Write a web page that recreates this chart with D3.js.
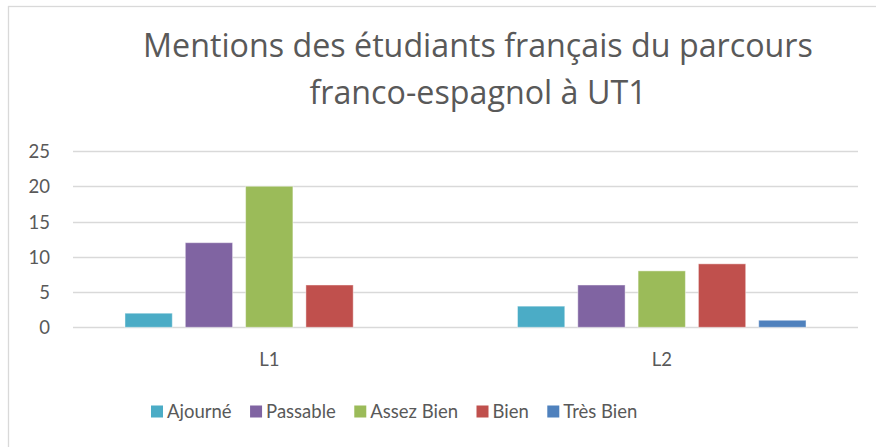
<!DOCTYPE html>
<html><head><meta charset="utf-8">
<script src="https://cdn.jsdelivr.net/npm/d3@7"></script>
<style>
html,body{margin:0;padding:0;background:#fff;}
svg{display:block;}
text{font-family:Lato,"Open Sans",sans-serif;fill:#595959;}
</style></head>
<body>
<script>
const categories = ["L1", "L2"];
const seriesNames = ["Ajourné", "Passable", "Assez Bien", "Bien", "Très Bien"];
const seriesColors = ["#4BACC6", "#8064A2", "#9BBB59", "#C0504D", "#4F81BD"];
const valuesL1 = [2, 12, 20, 6, 0];
const valuesL2 = [3, 6, 8, 9, 1];
const yTicks = [0, 5, 10, 15, 20, 25];
const titleLines = ["Mentions des étudiants français du parcours", "franco-espagnol à UT1"];

const W = 876, H = 447;
const svg = d3.select("body").append("svg").attr("width", W).attr("height", H);

// chart frame
svg.append("rect").attr("x", 8.5).attr("y", 6.5).attr("width", 900).attr("height", 480)
  .attr("fill", "#fff").attr("stroke", "#d9d9d9").attr("stroke-width", 1.3);

// title
const titleG = svg.append("g");
const tl = titleG.selectAll("text").data(titleLines).join("text")
  .attr("x", 478).attr("y", (d, i) => 57 + i * 47)
  .attr("text-anchor", "middle")
  .style("font-family", "'Open Sans', Lato, sans-serif")
  .style("font-size", "28px").text(d => d);
// fit first title line to the reference width
const w0 = tl.nodes()[0].getComputedTextLength();
const fs = 28 * 670 / w0;
tl.style("font-size", fs.toFixed(2) + "px");

const plot = {left: 73, right: 858, top: 151, bottom: 327.3};
const y = d3.scaleLinear().domain([0, 25]).range([plot.bottom, plot.top]);
const x0 = d3.scaleBand().domain(categories).range([plot.left, plot.right]).padding(0);
const x1 = d3.scaleBand().domain(seriesNames).range([0, x0.bandwidth()])
  .paddingInner(0.2156).paddingOuter(0.862);

// gridlines
svg.append("g").selectAll("line").data(yTicks).join("line")
  .attr("x1", plot.left).attr("x2", plot.right)
  .attr("y1", d => Math.round(y(d)) + 0.5).attr("y2", d => Math.round(y(d)) + 0.5)
  .attr("stroke", "#d9d9d9").attr("stroke-width", 1.4);

// y axis labels
const yAxis = d3.axisLeft(y).tickValues(yTicks).tickSize(0).tickPadding(0);
const yg = svg.append("g").attr("transform", "translate(50,0)").call(yAxis);
yg.select(".domain").remove();
yg.selectAll("text").attr("fill", "#595959").style("font-size", "18.5px")
  .style("font-family", "Lato, 'Open Sans', sans-serif").attr("dy", "0.36em");

// x axis labels
const xAxis = d3.axisBottom(x0).tickSize(0).tickPadding(0);
const xg = svg.append("g").attr("transform", "translate(0,366)").call(xAxis);
xg.select(".domain").remove();
xg.selectAll("text").attr("fill", "#595959").style("font-size", "18.5px")
  .style("font-family", "Lato, 'Open Sans', sans-serif").attr("dy", "0");

// bars
const data = [valuesL1, valuesL2];
const groups = svg.append("g").selectAll("g").data(categories).join("g")
  .attr("transform", d => `translate(${x0(d)},0)`);
groups.selectAll("rect")
  .data((c, i) => seriesNames.map((s, j) => ({s, v: data[i][j], color: seriesColors[j]})))
  .join("rect")
  .attr("x", d => x1(d.s)).attr("width", x1.bandwidth())
  .attr("y", d => y(d.v)).attr("height", d => y(0) - y(d.v))
  .attr("fill", d => d.color)
  .attr("stroke", "rgba(255,255,255,0.45)").attr("stroke-width", 1)
  .style("display", d => d.v > 0 ? null : "none");

// legend
const leg = svg.append("g");
let lx = 151;
seriesNames.forEach((s, i) => {
  leg.append("rect").attr("x", lx).attr("y", 405.5).attr("width", 12).attr("height", 12)
    .attr("fill", seriesColors[i]);
  const t = leg.append("text").attr("x", lx + 16).attr("y", 418).style("font-size", "18.5px").text(s);
  const w = t.node().getComputedTextLength();
  lx = lx + 16 + w + 18.5;
});
</script>
</body></html>
